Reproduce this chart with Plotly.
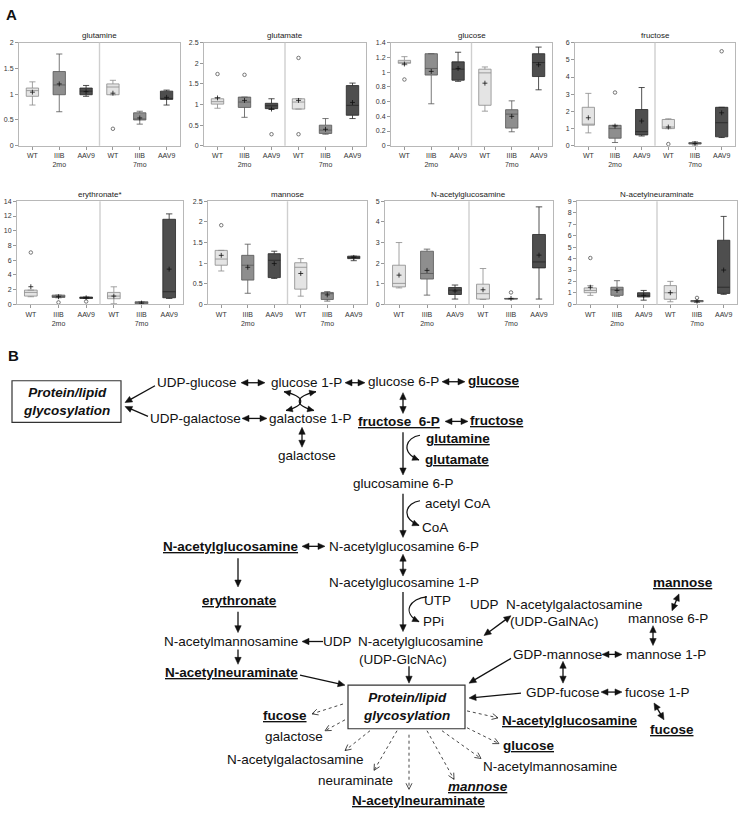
import math
import plotly.graph_objects as go

W, H = 748, 819
FONT = "Liberation Sans, Arial, sans-serif"

# ---------------- Panel A data (order: WT, IIIB, AAV9 @2mo, WT, IIIB, AAV9 @7mo) ----------------
tick_text = ["WT", "IIIB<br>2mo", "AAV9", "WT", "IIIB<br>7mo", "AAV9"]
group_names = ["WT", "IIIB", "AAV9"]

glutamine = dict(
    low=[0.79, 0.66, 0.96, 0.99, 0.42, 0.79],
    q1=[0.96, 0.99, 0.99, 0.99, 0.50, 0.90],
    med=[1.07, 1.18, 1.06, 1.14, 0.51, 0.90],
    q3=[1.12, 1.44, 1.12, 1.20, 0.64, 1.06],
    high=[1.24, 1.78, 1.17, 1.27, 0.67, 1.08],
    mean=[1.04, 1.20, 1.05, 1.02, 0.54, 0.94],
    out_x=[3], out_y=[0.33])
glutamate = dict(
    low=[0.91, 0.69, 0.88, 0.89, 0.28, 0.66],
    q1=[1.01, 0.93, 0.90, 0.89, 0.30, 0.74],
    med=[1.07, 1.06, 0.97, 1.06, 0.38, 0.98],
    q3=[1.14, 1.18, 1.03, 1.14, 0.50, 1.46],
    high=[1.17, 1.18, 1.14, 1.14, 0.66, 1.52],
    mean=[1.16, 1.10, 0.89, 1.10, 0.40, 1.05],
    out_x=[0, 1, 2, 3, 3], out_y=[1.74, 1.72, 0.28, 2.13, 0.28])
glucose = dict(
    low=[1.10, 0.57, 0.875, 0.47, 0.19, 0.76],
    q1=[1.12, 0.96, 0.89, 0.55, 0.24, 0.94],
    med=[1.13, 1.05, 1.04, 0.99, 0.43, 1.13],
    q3=[1.16, 1.25, 1.14, 1.04, 0.49, 1.25],
    high=[1.21, 1.25, 1.27, 1.07, 0.61, 1.34],
    mean=[1.11, 1.01, 1.05, 0.85, 0.40, 1.10],
    out_x=[0], out_y=[0.90])
fructose = dict(
    low=[0.75, 0.19, 0.57, 1.00, 0.04, 0.48],
    q1=[1.20, 0.44, 0.63, 1.00, 0.10, 0.52],
    med=[1.25, 1.00, 0.82, 1.09, 0.13, 1.34],
    q3=[2.24, 1.19, 2.11, 1.53, 0.19, 2.24],
    high=[3.05, 1.19, 3.39, 1.57, 0.23, 2.24],
    mean=[1.63, 1.15, 1.44, 1.09, 0.13, 1.92],
    out_x=[1, 3, 5], out_y=[3.10, 0.10, 5.50])
erythronate = dict(
    low=[1.04, 0.90, 0.81, 0.09, 0.05, 0.81],
    q1=[1.13, 0.95, 0.81, 0.77, 0.09, 0.90],
    med=[1.63, 1.08, 0.90, 1.13, 0.18, 1.72],
    q3=[1.94, 1.26, 1.00, 1.63, 0.36, 11.56],
    high=[1.94, 1.26, 1.00, 2.39, 0.36, 12.29],
    mean=[2.40, 1.04, 0.90, 1.13, 0.18, 4.79],
    out_x=[0, 1, 2], out_y=[7.05, 0.27, 0.40])
mannose = dict(
    low=[0.81, 0.27, 0.63, 0.20, 0.08, 1.06],
    q1=[0.95, 0.59, 0.65, 0.37, 0.12, 1.11],
    med=[1.10, 0.95, 1.07, 0.90, 0.26, 1.14],
    q3=[1.31, 1.19, 1.23, 1.01, 0.29, 1.17],
    high=[1.31, 1.46, 1.29, 1.11, 0.31, 1.17],
    mean=[1.19, 0.90, 0.99, 0.75, 0.23, 1.14],
    out_x=[0], out_y=[1.92])
n_acetylglucosamine = dict(
    low=[0.80, 0.45, 0.26, 0.24, 0.26, 0.26],
    q1=[0.85, 1.23, 0.48, 0.26, 0.26, 1.77],
    med=[1.02, 1.50, 0.69, 0.52, 0.27, 2.06],
    q3=[1.90, 2.58, 0.82, 0.98, 0.29, 3.39],
    high=[3.00, 2.68, 0.94, 1.74, 0.29, 4.73],
    mean=[1.42, 1.65, 0.65, 0.71, 0.29, 2.39],
    out_x=[4], out_y=[0.58])
n_acetylneuraminate = dict(
    low=[0.79, 0.71, 0.37, 0.23, 0.17, 0.88],
    q1=[1.02, 0.79, 0.65, 0.45, 0.23, 0.96],
    med=[1.22, 1.27, 0.79, 1.02, 0.31, 1.50],
    q3=[1.44, 1.50, 1.02, 1.64, 0.34, 5.60],
    high=[1.64, 2.07, 1.22, 2.01, 0.34, 7.68],
    mean=[1.50, 1.22, 0.79, 1.02, 0.28, 3.00],
    out_x=[0, 4], out_y=[4.05, 0.57])

panel_titles = ["glutamine", "glutamate", "glucose", "fructose",
                "erythronate*", "mannose", "N-acetylglucosamine", "N-acetylneuraminate"]
panel_data = [glutamine, glutamate, glucose, fructose,
              erythronate, mannose, n_acetylglucosamine, n_acetylneuraminate]
y_max = [2, 2.5, 1.4, 6, 14, 2.5, 5, 9]
y_step = [0.5, 0.5, 0.2, 1, 2, 0.5, 1, 1]

# plot-area boxes in pixels (left, right, top, bottom)
panel_px = [(19, 180, 39, 143), (204, 366, 39, 143), (391, 552, 39, 143), (575, 735, 39, 143),
            (17, 183, 199, 303), (208, 367, 199, 303), (385, 553, 199, 303), (577, 737, 199, 303)]

fills = ["#e4e4e4", "#8e8e8e", "#4e4e4e"]
lines = ["#8a8a8a", "#555555", "#262626"]

fig = go.Figure()
layout = dict(width=W, height=H, margin=dict(l=0, r=0, t=0, b=0), autosize=False,
              paper_bgcolor="white", plot_bgcolor="rgba(0,0,0,0)", showlegend=False,
              font=dict(family=FONT, color="#222"))
shapes = []
annotations = []

for i, (d, title) in enumerate(zip(panel_data, panel_titles)):
    k = i + 1
    sfx = "" if k == 1 else str(k)
    xa, ya = f"x{sfx}", f"y{sfx}"
    l, r, t, b = panel_px[i]
    layout[f"xaxis{sfx}"] = dict(
        domain=[l / W, r / W], anchor=ya, range=[-0.5, 5.5],
        tickvals=list(range(6)), ticktext=tick_text, tickfont=dict(size=7, color="#333"),
        ticks="outside", ticklen=3, tickcolor="#999", showline=True, mirror=True,
        linecolor="#b8b8b8", linewidth=1, showgrid=False, zeroline=False, fixedrange=True)
    layout[f"yaxis{sfx}"] = dict(
        domain=[1 - b / H, 1 - t / H], anchor=xa, range=[0, y_max[i]], tick0=0, dtick=y_step[i],
        tickfont=dict(size=7, color="#333"), ticks="outside", ticklen=3, tickcolor="#999",
        showline=True, mirror=True, linecolor="#b8b8b8", linewidth=1,
        showgrid=False, zeroline=False, fixedrange=True)
    for g in range(3):
        idx = [g, g + 3]
        fig.add_trace(go.Box(
            x=idx, q1=[d["q1"][j] for j in idx], median=[d["med"][j] for j in idx],
            q3=[d["q3"][j] for j in idx], lowerfence=[d["low"][j] for j in idx],
            upperfence=[d["high"][j] for j in idx], width=0.46, whiskerwidth=0.5,
            fillcolor=fills[g], line=dict(color=lines[g], width=0.8), boxpoints=False,
            name=group_names[g], xaxis=xa, yaxis=ya, hoverinfo="skip"))
    fig.add_trace(go.Scatter(
        x=list(range(6)), y=d["mean"], mode="markers", xaxis=xa, yaxis=ya,
        marker=dict(symbol="cross-thin", size=3.5, line=dict(width=0.8, color="#111")),
        hoverinfo="skip"))
    fig.add_trace(go.Scatter(
        x=d["out_x"], y=d["out_y"], mode="markers", xaxis=xa, yaxis=ya,
        marker=dict(symbol="circle-open", size=3.5, color="#555", line=dict(width=0.8)),
        hoverinfo="skip"))
    shapes.append(dict(type="line", xref=xa, yref=f"{ya} domain", x0=2.5, x1=2.5, y0=0, y1=1,
                       line=dict(color="#cfcfcf", width=1.4)))
    annotations.append(dict(text=title, xref="paper", yref="paper", x=(l + r) / 2 / W,
                            y=1 - (t - 7) / H, xanchor="center", yanchor="middle",
                            showarrow=False, font=dict(size=8, color="#222")))

# ---------------- Panel B: pathway diagram on a pixel-scaled overlay axis ----------------
layout["xaxis9"] = dict(domain=[0, 1], range=[0, W], anchor="y9", visible=False, fixedrange=True)
layout["yaxis9"] = dict(domain=[0, 1], range=[H, 0], anchor="x9", visible=False, fixedrange=True)
fig.add_trace(go.Scatter(x=[0], y=[0], xaxis="x9", yaxis="y9", mode="markers",
                         marker=dict(opacity=0), hoverinfo="skip"))

INK = "#111"


def head(tip, d, L=7.0, hw=3.2, filled=True):
    dx, dy = d
    n = math.hypot(dx, dy)
    dx, dy = dx / n, dy / n
    bx, by = tip[0] - L * dx, tip[1] - L * dy
    px, py = -dy, dx
    p1 = (bx + hw * px, by + hw * py)
    p2 = (bx - hw * px, by - hw * py)
    if filled:
        shapes.append(dict(type="path", xref="x9", yref="y9",
                           path=f"M{tip[0]:.2f},{tip[1]:.2f} L{p1[0]:.2f},{p1[1]:.2f} L{p2[0]:.2f},{p2[1]:.2f} Z",
                           fillcolor=INK, line=dict(color=INK, width=0.5)))
    else:
        shapes.append(dict(type="path", xref="x9", yref="y9",
                           path=f"M{p1[0]:.2f},{p1[1]:.2f} L{tip[0]:.2f},{tip[1]:.2f} L{p2[0]:.2f},{p2[1]:.2f}",
                           line=dict(color="#333", width=0.9)))


def arrow(x0, y0, x1, y1, both=False, dotted=False):
    L = 7.0
    n = math.hypot(x1 - x0, y1 - y0)
    ux, uy = (x1 - x0) / n, (y1 - y0) / n
    if dotted:
        shapes.append(dict(type="line", xref="x9", yref="y9", x0=x0, y0=y0, x1=x1, y1=y1,
                           line=dict(color="#333", width=0.9, dash="dot")))
        head((x1, y1), (ux, uy), L=6, hw=3, filled=False)
        return
    sx, sy = (x0 + ux * L * 0.7, y0 + uy * L * 0.7) if both else (x0, y0)
    ex, ey = x1 - ux * L * 0.7, y1 - uy * L * 0.7
    shapes.append(dict(type="line", xref="x9", yref="y9", x0=sx, y0=sy, x1=ex, y1=ey,
                       line=dict(color=INK, width=1.3)))
    head((x1, y1), (ux, uy))
    if both:
        head((x0, y0), (-ux, -uy))


def curve(p0, c1, c2, p1, head_end=True, head_start=False):
    shapes.append(dict(type="path", xref="x9", yref="y9",
                       path=f"M{p0[0]},{p0[1]} C{c1[0]},{c1[1]} {c2[0]},{c2[1]} {p1[0]},{p1[1]}",
                       line=dict(color=INK, width=1.2)))
    if head_end:
        head(p1, (p1[0] - c2[0], p1[1] - c2[1]), L=6.5, hw=3)
    if head_start:
        head(p0, (p0[0] - c1[0], p0[1] - c1[1]), L=6.5, hw=3)


def label(text, x, y, size=13.5):
    annotations.append(dict(text=text, xref="x9", yref="y9", x=x, y=y, xanchor="center",
                            yanchor="middle", showarrow=False,
                            font=dict(size=size, color=INK, family=FONT)))


def bu(t):
    return f"<b><u>{t}</u></b>"


annotations.append(dict(text="<b>A</b>", xref="x9", yref="y9", x=4, y=11, xanchor="left",
                        yanchor="middle", showarrow=False, font=dict(size=15, color=INK)))
annotations.append(dict(text="<b>B</b>", xref="x9", yref="y9", x=6, y=355, xanchor="left",
                        yanchor="middle", showarrow=False, font=dict(size=15, color=INK)))

# glycosylation boxes
for (x0, y0, x1, y1) in [(12, 380, 121, 422), (348, 687, 465, 731)]:
    shapes.append(dict(type="rect", xref="x9", yref="y9", x0=x0, y0=y0, x1=x1, y1=y1,
                       line=dict(color="#333", width=1.2), fillcolor="white", layer="below"))
    label("<b><i>Protein/lipid<br>glycosylation</i></b>", (x0 + x1) / 2, (y0 + y1) / 2)

labels = [
    ("UDP-glucose", 197, 382), ("glucose 1-P", 306, 382), ("glucose 6-P", 403, 381),
    (bu("glucose"), 494, 380), ("UDP-galactose", 195, 418), ("galactose 1-P", 310, 418),
    ("galactose", 307, 455), (bu("fructose\u00a0 6-P"), 399, 421), (bu("fructose"), 497, 420),
    (bu("glutamine"), 458, 438), (bu("glutamate"), 457, 459), ("glucosamine 6-P", 403, 484),
    ("acetyl CoA", 457, 504), ("CoA", 435, 528), ("N-acetylglucosamine 6-P", 404, 547),
    (bu("N-acetylglucosamine"), 231, 547), ("N-acetylglucosamine 1-P", 404, 583),
    ("UTP", 437, 602), ("PPi", 433, 623), (bu("erythronate"), 239, 602),
    ("N-acetylmannosamine", 231, 643), ("UDP", 337, 643), ("N-acetylglucosamine", 420, 643),
    ("(UDP-GlcNAc)", 403, 661), (bu("N-acetylneuraminate"), 231, 674),
    ("UDP\u00a0 N-acetylgalactosamine", 556, 606), ("(UDP-GalNAc)", 554, 623),
    (bu("mannose"), 683, 583), ("mannose 6-P", 668, 620), ("GDP-mannose", 557, 656),
    ("mannose 1-P", 666, 656), ("GDP-fucose", 563, 694), ("fucose 1-P", 657, 694),
    (bu("fucose"), 672, 732), (bu("N-acetylglucosamine"), 570, 723), (bu("glucose"), 529, 748),
    ("N-acetylmannosamine", 550, 769), ("<b><i><u>mannose</u></i></b>", 478, 789),
    (bu("N-acetylneuraminate"), 418, 803), ("neuraminate", 355, 783),
    ("N-acetylgalactosamine", 295, 762), ("galactose", 294, 739), (bu("fucose"), 285, 718),
]
for t, x, y in labels:
    label(t, x, y)

# double-headed arrows
for seg in [(241, 382, 265, 382), (345, 382, 365, 382), (442, 381, 465, 381),
            (242, 418, 267, 418), (445, 421, 468, 421), (302, 547, 325, 547),
            (602, 656, 622, 656), (601, 694, 622, 694),
            (403, 392, 403, 413), (302, 427, 302, 447), (403, 555, 403, 577),
            (563, 663, 563, 685), (653, 627, 653, 647),
            (679, 595, 672, 612), (654, 705, 664, 722), (484, 637, 511, 617)]:
    arrow(*seg, both=True)

# single solid arrows (tail -> head)
for seg in [(155, 385, 125, 402), (148, 416, 125, 406), (403, 432, 403, 475),
            (403, 494, 403, 538), (403, 593, 403, 633), (238, 559, 238, 588),
            (238, 613, 238, 634), (238, 651, 238, 666), (323, 643, 302, 643),
            (300, 677, 345, 687), (409, 668, 409, 685), (511, 660, 469, 685),
            (521, 695, 469, 700)]:
    arrow(*seg)

# dotted arrows out of the central glycosylation box
for seg in [(343, 706, 312, 716), (345, 722, 325, 733), (370, 733, 345, 753),
            (397, 733, 374, 773), (409, 737, 409, 792), (427, 733, 454, 782),
            (442, 733, 481, 761), (467, 730, 499, 746), (467, 713, 498, 720)]:
    arrow(*seg, dotted=True)

# curved side reactions
curve((420, 435), (406, 437), (400, 452), (419, 460))
curve((420, 501), (406, 503), (400, 518), (419, 526))
curve((427, 598), (410, 599), (401, 614), (419, 623))
# crossing glucose-1-P / galactose-1-P interconversion: ")(" arcs touching, heads on every end
curve((284, 391), (306, 396), (306, 405), (286, 410), head_end=True, head_start=True)
curve((316, 391), (294, 396), (294, 405), (314, 410), head_end=True, head_start=True)

layout["shapes"] = shapes
layout["annotations"] = annotations
fig.update_layout(**layout)
fig.write_html("out.html", config={"displayModeBar": False},
               post_script="document.body.style.margin='0';document.body.style.padding='0';")
